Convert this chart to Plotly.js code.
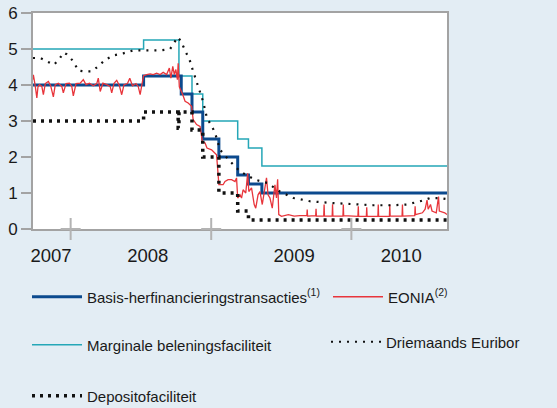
<!DOCTYPE html>
<html>
<head>
<meta charset="utf-8">
<script src="https://cdn.plot.ly/plotly-3.0.1.min.js"></script>
<style>
html,body{margin:0;padding:0;background:#e3edf4;}
#chart{width:557px;height:408px;}
</style>
</head>
<body>
<div id="chart"></div>
<script>
// ---- Data ----
const refiDates = ['2007-09-25','2008-07-09','2008-10-15','2008-11-12','2008-12-10','2009-01-21','2009-03-11','2009-04-08','2009-05-13','2010-09-07'];
const refiValues = [4.00,4.25,3.75,3.25,2.50,2.00,1.50,1.25,1.00,1.00];

const margDates = ['2007-09-25','2008-07-09','2008-10-09','2008-11-12','2008-12-10','2009-03-11','2009-04-08','2009-05-13','2010-09-07'];
const margValues = [5.00,5.25,4.25,3.75,3.00,2.50,2.25,1.75,1.75];

const depDates = ['2007-09-25','2008-07-09','2008-10-07','2008-10-09','2008-11-12','2008-12-10','2009-01-21','2009-03-11','2009-04-08','2010-09-07'];
const depValues = [3.00,3.25,2.80,3.25,2.75,2.00,1.00,0.50,0.25,0.25];

const euriborDates = ['2007-09-25','2007-10-14','2007-11-09','2007-11-18','2007-12-01','2007-12-14','2007-12-22','2008-01-08','2008-01-21','2008-02-03','2008-02-25','2008-03-13','2008-03-31','2008-04-21','2008-05-17','2008-06-12','2008-07-17','2008-08-21','2008-09-16','2008-10-06','2008-10-14','2008-10-25','2008-11-07','2008-11-15','2008-11-28','2008-12-11','2008-12-21','2009-01-02','2009-01-11','2009-01-24','2009-02-19','2009-03-17','2009-04-25','2009-05-27','2009-06-29','2009-08-03','2009-08-20','2009-09-15','2009-11-15','2010-01-06','2010-02-27','2010-04-20','2010-05-25','2010-06-29','2010-07-25','2010-08-20','2010-09-07'];
const euriborValues = [4.75,4.75,4.61,4.56,4.70,4.90,4.85,4.66,4.40,4.38,4.38,4.52,4.70,4.82,4.88,4.96,4.96,4.96,5.00,5.33,5.22,4.98,4.66,4.38,3.96,3.54,3.08,2.87,2.67,2.20,1.88,1.60,1.37,1.28,1.04,0.86,0.83,0.77,0.72,0.68,0.66,0.66,0.68,0.77,0.86,0.86,0.83];

const eoniaDates = ['2007-09-25','2007-09-26','2007-10-01','2007-10-05','2007-10-08','2007-10-12','2007-10-18','2007-10-22','2007-10-27','2007-11-04','2007-11-10','2007-11-17','2007-11-22','2007-11-30','2007-12-09','2007-12-13','2007-12-20','2007-12-29','2008-01-04','2008-01-08','2008-01-15','2008-01-26','2008-02-03','2008-02-10','2008-02-19','2008-02-29','2008-03-09','2008-03-13','2008-03-18','2008-03-25','2008-04-04','2008-04-13','2008-04-17','2008-04-23','2008-04-30','2008-05-07','2008-05-13','2008-05-19','2008-05-28','2008-06-03','2008-06-10','2008-06-19','2008-06-25','2008-06-30','2008-07-05','2008-07-09','2008-07-17','2008-07-26','2008-08-03','2008-08-12','2008-08-21','2008-08-29','2008-09-07','2008-09-14','2008-09-18','2008-09-23','2008-09-27','2008-10-01','2008-10-05','2008-10-07','2008-10-10','2008-10-14','2008-10-19','2008-10-25','2008-11-02','2008-11-11','2008-11-15','2008-11-24','2008-12-03','2008-12-07','2008-12-09','2008-12-16','2008-12-21','2009-01-02','2009-01-15','2009-01-18','2009-01-21','2009-02-01','2009-02-06','2009-02-14','2009-02-23','2009-03-04','2009-03-08','2009-03-11','2009-03-17','2009-03-21','2009-03-25','2009-04-01','2009-04-06','2009-04-09','2009-04-16','2009-04-23','2009-04-27','2009-05-03','2009-05-08','2009-05-14','2009-05-21','2009-05-25','2009-05-29','2009-06-03','2009-06-09','2009-06-16','2009-06-20','2009-06-23','2009-06-26','2009-07-03','2009-07-21','2009-08-05','2009-08-20','2009-09-07','2009-09-08','2009-09-09','2009-09-30','2009-10-01','2009-10-02','2009-10-21','2009-10-22','2009-10-23','2009-11-12','2009-11-13','2009-11-14','2009-12-10','2009-12-11','2009-12-12','2010-01-18','2010-01-19','2010-01-20','2010-02-09','2010-02-10','2010-02-11','2010-03-11','2010-03-12','2010-03-13','2010-04-10','2010-04-11','2010-04-12','2010-05-13','2010-05-14','2010-05-15','2010-06-15','2010-06-16','2010-06-17','2010-07-05','2010-07-12','2010-07-17','2010-07-20','2010-07-26','2010-07-30','2010-08-10','2010-08-16','2010-08-18','2010-09-01','2010-09-07'];
const eoniaValues = [4.15,4.28,3.96,3.64,3.95,4.01,3.96,3.73,4.04,4.10,3.98,3.67,4.01,4.05,3.96,3.78,4.04,4.05,3.96,3.70,4.04,4.05,4.15,4.01,4.05,3.98,4.04,4.19,3.82,4.05,4.01,3.96,3.78,4.05,4.13,3.98,3.73,4.01,4.04,4.19,3.98,4.04,3.96,3.73,4.04,4.26,4.29,4.31,4.29,4.33,4.29,4.35,4.29,4.47,4.19,4.52,4.29,4.43,4.15,4.60,3.95,3.87,3.73,3.55,3.50,3.41,3.04,2.90,2.85,2.57,2.43,2.39,2.25,2.20,2.06,1.65,1.23,1.23,1.32,1.37,1.37,1.32,1.42,0.86,0.95,0.86,1.09,1.00,1.55,1.04,1.14,0.68,0.58,0.95,1.04,0.68,1.09,1.42,0.95,0.86,0.58,1.23,0.86,1.38,0.40,0.35,0.40,0.36,0.37,0.37,0.54,0.36,0.37,0.56,0.36,0.36,0.68,0.36,0.36,0.69,0.36,0.36,0.68,0.37,0.35,0.63,0.35,0.35,0.60,0.35,0.35,0.68,0.35,0.35,0.68,0.36,0.36,0.68,0.36,0.37,0.63,0.40,0.45,0.55,0.80,0.55,0.68,0.50,0.45,0.90,0.50,0.45,0.40];

const yearStarts = ['2008-01-01','2009-01-01','2010-01-01'];
const yearLabelPos = ['2007-11-11','2008-07-20','2009-08-05','2010-05-11'];
const yearLabels = ['2007','2008','2009','2010'];
const xRange = ['2007-09-25','2010-09-07'];

const names = {
  refi: 'Basis-herfinancieringstransacties<sup>(1)</sup>',
  eonia: 'EONIA<sup>(2)</sup>',
  marg: 'Marginale beleningsfaciliteit',
  euribor: 'Driemaands Euribor',
  dep: 'Depositofaciliteit'
};

// ---- Chart ----
const FONT = 'Liberation Sans, Arial, sans-serif';
const traces = [
  {x: margDates, y: margValues, name: names.marg, type:'scatter', mode:'lines', line:{shape:'hv', color:'#25a7b7', width:1.5}, legend:'legend3'},
  {x: refiDates, y: refiValues, name: names.refi, type:'scatter', mode:'lines', line:{shape:'hv', color:'#0c4a8e', width:3}, legend:'legend'},
  {x: eoniaDates, y: eoniaValues, name: names.eonia, type:'scatter', mode:'lines', line:{color:'#e8353b', width:1.3}, legend:'legend2'},
  {x: euriborDates, y: euriborValues, name: names.euribor, type:'scatter', mode:'lines', line:{color:'#111', width:2.2, dash:'2px,6px'}, legend:'legend4'},
  {x: depDates, y: depValues, name: names.dep, type:'scatter', mode:'lines', line:{shape:'hv', color:'#111', width:3.5, dash:'3px,5px'}, legend:'legend5'}
];

function leg(px, py){
  return {xref:'container', yref:'container', x: px/557, y: 1 - py/408, xanchor:'left', yanchor:'middle',
          bgcolor:'rgba(0,0,0,0)', borderwidth:0, font:{family:FONT, size:15, color:'#1a1a1a'}, itemwidth:50};
}

const shapes = [];
yearStarts.forEach(d => {
  shapes.push({type:'line', xref:'x', yref:'paper', xsizemode:'pixel', xanchor:d, x0:0, x1:0,
               ysizemode:'pixel', yanchor:0, y0:-11, y1:11, line:{color:'#b3b3b3', width:2}, layer:'above'});
  shapes.push({type:'line', xref:'x', yref:'paper', xsizemode:'pixel', xanchor:d, x0:-10, x1:10,
               ysizemode:'pixel', yanchor:0, y0:0, y1:0, line:{color:'#b3b3b3', width:2}, layer:'above'});
});

const layout = {
  width:557, height:408,
  margin:{l:33, r:110, t:13, b:179, autoexpand:false},
  paper_bgcolor:'#e3edf4',
  plot_bgcolor:'#ffffff',
  font:{family:FONT, color:'#1a1a1a'},
  showlegend:true,
  xaxis:{type:'date', range:xRange, tickmode:'array', tickvals:yearLabelPos, ticktext:yearLabels,
         ticks:'', showgrid:false, zeroline:false, showline:true, linecolor:'#a3a3a3', linewidth:2, mirror:true,
         tickfont:{size:18.5, family:FONT, color:'#1a1a1a'}, ticklabelstandoff:9, automargin:false},
  yaxis:{range:[0,6], dtick:1, ticks:'outside', ticklen:10, tickwidth:2, tickcolor:'#a3a3a3',
         showgrid:false, zeroline:false, showline:true, linecolor:'#a3a3a3', linewidth:2, mirror:true,
         tickfont:{size:17, family:FONT, color:'#1a1a1a'}, automargin:false},
  legend: leg(27, 297),
  legend2: leg(328, 297),
  legend3: leg(27, 345),
  legend4: leg(326, 342),
  legend5: leg(27, 396),
  shapes: shapes
};

Plotly.newPlot('chart', traces, layout, {displayModeBar:false, staticPlot:true});
</script>
</body>
</html>
